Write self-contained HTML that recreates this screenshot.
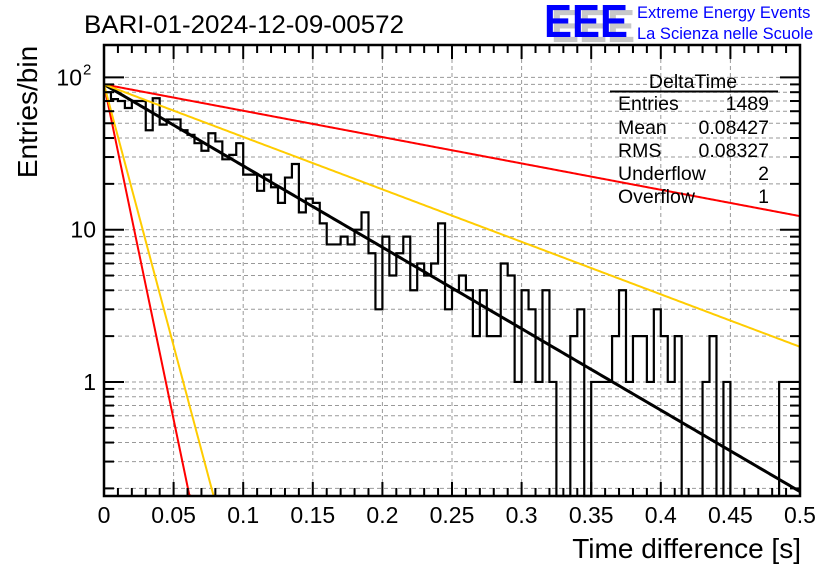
<!DOCTYPE html>
<html><head><meta charset="utf-8"><style>
html,body{margin:0;padding:0;background:#fff;}
svg{display:block;font-family:"Liberation Sans",Arial,sans-serif;}
</style></head><body>
<svg id="chart" width="836" height="572" viewBox="0 0 836 572" xmlns="http://www.w3.org/2000/svg">
<rect width="836" height="572" fill="#fff"/>
<g id="grid"></g>
<g id="marks"></g>
<g id="axes"></g>
<text x="84" y="33" font-size="25" textLength="320" lengthAdjust="spacingAndGlyphs">BARI-01-2024-12-09-00572</text>
<text x="801" y="558" font-size="28" text-anchor="end">Time difference [s]</text>
<text transform="translate(37,112) rotate(-90)" font-size="28" text-anchor="middle">Entries/bin</text>
<g>
<text x="551" y="42" font-size="46" font-weight="bold" fill="#c8c8c8" textLength="84" lengthAdjust="spacingAndGlyphs">EEE</text>
<text x="544" y="37" font-size="46" font-weight="bold" fill="#0000ff" textLength="84" lengthAdjust="spacingAndGlyphs">EEE</text>
<text x="637" y="18" font-size="16.5" fill="#0000ff">Extreme Energy Events</text>
<text x="637" y="39" font-size="16.5" fill="#0000ff">La Scienza nelle Scuole</text>
</g>
<g>
<text x="693" y="88" font-size="19.5" text-anchor="middle">DeltaTime</text>
<line x1="610" y1="91.5" x2="778" y2="91.5" stroke="#000" stroke-width="2"/>
<text x="618" y="110" font-size="19.5">Entries</text><text x="769" y="110" font-size="19.5" text-anchor="end">1489</text>
<text x="618" y="134" font-size="19.5">Mean</text><text x="769" y="134" font-size="19.5" text-anchor="end">0.08427</text>
<text x="618" y="157" font-size="19.5">RMS</text><text x="769" y="157" font-size="19.5" text-anchor="end">0.08327</text>
<text x="618" y="180" font-size="19.5">Underflow</text><text x="769" y="180" font-size="19.5" text-anchor="end">2</text>
<text x="618" y="203" font-size="19.5">Overflow</text><text x="769" y="203" font-size="19.5" text-anchor="end">1</text>
</g>
</svg>
<script>
const counts = [80,72,70,63,70,70,45,73,49,53,53,45,42,37,33,43,38,29,31,37,23,23,18,23,19,15,22,27,13,16,15,11,8,8,9,8,10,13,7,3,9,5,7,9,4,6,5,6,11,3,4,5,4,2,4,2,2,6,5,1,4,3,1,4,1,0,0,2,3,0,1,1,1,2,4,1,2,2,1,3,2,1,2,0,0,0,1,2,0,1,0,0,0,0,0,0,0,1,1,1];
const binWidth = [0.005];
const fitAmps = [90,90,90,90,90];
const fitTaus = [0.0812,0.251,0.126,0.00987,0.01265];
const fitColors = ['#000000','#ff0000','#ffcc00','#ff0000','#ffcc00'];
const xTicks = [0,0.05,0.1,0.15,0.2,0.25,0.3,0.35,0.4,0.45,0.5];
const xTickLabels = ['0','0.05','0.1','0.15','0.2','0.25','0.3','0.35','0.4','0.45','0.5'];

const NS='http://www.w3.org/2000/svg';
const L=104,R=800,T=45,B=496;
const yLogMin=-0.749,yLogMax=2.213;
const xs=v=>L+(v-0)/(0.5-0)*(R-L);
const ys=v=>{ if(v<=0) return B; let y=B-(Math.log10(v)-yLogMin)/(yLogMax-yLogMin)*(B-T); return Math.max(T,Math.min(B,y));};
function mk(tag,attrs,parent){const e=document.createElementNS(NS,tag);for(const k in attrs)e.setAttribute(k,attrs[k]);parent.appendChild(e);return e;}
const grid=document.getElementById('grid'),marks=document.getElementById('marks'),axes=document.getElementById('axes');

xTicks.slice(1,-1).forEach(v=>{const l=mk('line',{x1:xs(v),x2:xs(v),y1:T,y2:B,stroke:'#999','stroke-width':1,'stroke-dasharray':'4,3'},grid);

});
for(let d=-1;d<=2;d++){for(let m=1;m<=9;m++){const v=m*Math.pow(10,d);const lv=Math.log10(v);if(lv<yLogMin||lv>yLogMax)continue;const y=ys(v);
const g=mk('line',{x1:L,x2:R,y1:y,y2:y,stroke:'#999','stroke-width':1,'stroke-dasharray':'4,3'},grid);


const len=m===1?20:10;
mk('line',{x1:L,x2:L+len,y1:y,y2:y,stroke:'#000','stroke-width':2},axes);
mk('line',{x1:R,x2:R-len,y1:y,y2:y,stroke:'#000','stroke-width':2},axes);}}
[[1,'1'],[10,'10']].forEach(([v,s])=>{const t=mk('text',{x:96,y:ys(v)+8,'font-size':23,'text-anchor':'end'},axes);t.textContent=s;

});
{const t=mk('text',{x:82,y:ys(100)+8,'font-size':23,'text-anchor':'end'},axes);t.textContent='10';


const s=mk('text',{x:83,y:ys(100)-3,'font-size':15},axes);s.textContent='2';}
for(let i=0;i<=50;i++){const v=i*0.01;const x=xs(v);const len=(i%5===0)?14:8;
mk('line',{x1:x,x2:x,y1:B,y2:B-len,stroke:'#000','stroke-width':2},axes);
mk('line',{x1:x,x2:x,y1:T,y2:T+len,stroke:'#000','stroke-width':2},axes);}
xTicks.forEach((v,i)=>{const t=mk('text',{x:xs(v),y:523,'font-size':23,'text-anchor':'middle'},axes);t.textContent=xTickLabels[i];

});
const fr=mk('rect',{x:L,y:T,width:R-L,height:B-T,fill:'none',stroke:'#000','stroke-width':2.5},axes);



let d='';
counts.forEach((c,i)=>{const x0=xs(i*binWidth[0]),x1=xs((i+1)*binWidth[0]),y=ys(c);
d+=(i===0?'M'+x0+','+y:'L'+x0+','+y)+'L'+x1+','+y;});
const h=mk('path',{d:d,fill:'none',stroke:'#000','stroke-width':2.2},marks);



fitTaus.forEach((tau,k)=>{let pts=[];for(let i=0;i<=400;i++){const t=i*0.5/400;const v=fitAmps[k]*Math.exp(-t/tau);const lv=Math.log10(v);if(lv<yLogMin){pts.push(xs(t)+','+B);break;}pts.push(xs(t)+','+ys(v));}
const p=mk('polyline',{points:pts.join(' '),fill:'none',stroke:fitColors[k],'stroke-width':k===0?3:2},marks);

});
</script>
</body></html>
